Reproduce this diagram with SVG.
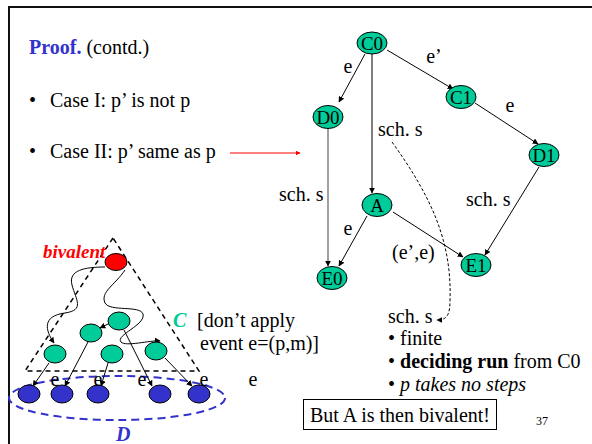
<svg xmlns="http://www.w3.org/2000/svg" width="592" height="444" viewBox="0 0 592 444" font-family="'Liberation Serif', 'Times New Roman', Times, serif">
<style>
text{font-family:'Liberation Serif','Times New Roman',Times,serif;font-size:20px;fill:#000}
.g{fill:#00cc99;stroke:#000;stroke-width:1}
.b{fill:#3333cc;stroke:#000;stroke-width:1}
.r{fill:#ff0000;stroke:#000;stroke-width:1}
.e{stroke:#000;stroke-width:1;fill:none;marker-end:url(#ah)}
.lbl{text-anchor:middle}
.nl{text-anchor:middle;font-size:19px}
</style>
<defs>
<marker id="ah" viewBox="0 0 10 10" refX="9" refY="5" markerWidth="6" markerHeight="6" markerUnits="userSpaceOnUse" orient="auto">
<path d="M0,0 L10,5 L0,10 z" fill="#000"/>
</marker>
<marker id="ahr" viewBox="0 0 10 10" refX="9" refY="5" markerWidth="5" markerHeight="5" markerUnits="userSpaceOnUse" orient="auto">
<path d="M0,0 L10,5 L0,10 z" fill="#ff0000"/>
</marker>
</defs>
<rect width="592" height="444" fill="#fff"/>
<g id="frame" stroke="#111" stroke-width="2">
<line x1="8" y1="7" x2="592" y2="7"/>
<line x1="9" y1="6" x2="9" y2="444"/>
</g>
<g id="title">
<text x="29" y="54"><tspan font-weight="bold" style="fill:#3333cc">Proof.</tspan> (contd.)</text>
<text x="29" y="107">•</text><text x="50" y="107">Case I: p’ is not p</text>
<text x="29" y="158">•</text><text x="50" y="158">Case II: p’ same as p</text>
</g>
<g id="connectors">
<line x1="230" y1="153" x2="300" y2="153" stroke="#ff0000" stroke-width="1" marker-end="url(#ahr)"/>
<line class="e" x1="365" y1="54" x2="339" y2="102"/>
<line class="e" x1="372" y1="54" x2="372" y2="193"/>
<line class="e" x1="387" y1="50" x2="453" y2="89"/>
<line class="e" x1="475" y1="103" x2="538" y2="144"/>
<line x1="328" y1="127" x2="328" y2="266" stroke="#808080" stroke-width="1.5" marker-end="url(#ah)"/>
<line class="e" x1="367" y1="216" x2="339" y2="266"/>
<line class="e" x1="393" y1="212" x2="463" y2="257"/>
<line class="e" x1="539" y1="167" x2="485" y2="255"/>
<path class="e" d="M392,142 C430,195 452,240 450,300 C450,315 447,320 437,320" stroke-dasharray="3,2"/>
</g>
<g id="edge-labels">
<text class="lbl" x="348" y="73">e</text>
<text class="lbl" x="434" y="63">e’</text>
<text class="lbl" x="510" y="112">e</text>
<text x="378" y="136">sch. s</text>
<text x="279" y="201">sch. s</text>
<text x="466" y="206">sch. s</text>
<text class="lbl" x="348" y="235">e</text>
<text x="392" y="259">(e’,e)</text>
</g>
<g id="C0"><ellipse class="g" cx="372" cy="43" rx="15" ry="11"/><text class="nl" x="372" y="50">C0</text></g>
<g id="C1"><ellipse class="g" cx="461" cy="97" rx="15" ry="11.5"/><text class="nl" x="461" y="104">C1</text></g>
<g id="D0"><ellipse class="g" cx="328" cy="117" rx="15" ry="11.5"/><text class="nl" x="328" y="124">D0</text></g>
<g id="D1"><ellipse class="g" cx="544" cy="155" rx="15" ry="11.5"/><text class="nl" x="544" y="162">D1</text></g>
<g id="A"><ellipse class="g" cx="377" cy="205" rx="15" ry="11.5"/><text class="nl" x="377" y="212">A</text></g>
<g id="E0"><ellipse class="g" cx="332" cy="278" rx="15" ry="11.5"/><text class="nl" x="332" y="285">E0</text></g>
<g id="E1"><ellipse class="g" cx="476" cy="265" rx="15" ry="11.5"/><text class="nl" x="476" y="272">E1</text></g>
<g id="notes">
<text x="388" y="323">sch. s</text>
<text x="388" y="345">• finite</text>
<text x="388" y="368">• <tspan font-weight="bold">deciding run</tspan> from C0</text>
<text x="388" y="391">• <tspan font-style="italic">p takes no steps</tspan></text>
</g>
<g id="conclusion">
<rect x="303.5" y="399.5" width="193" height="30" fill="#fff" stroke="#000" stroke-width="1"/>
<text x="310" y="422">But A is then bivalent!</text>
</g>
<text x="542" y="425" text-anchor="middle" style="font-size:12px">37</text>
<g id="cone">
<polygon points="113,238 25,371 199,371" fill="none" stroke="#000" stroke-width="1.5" stroke-dasharray="5,4"/>
<ellipse cx="117" cy="398" rx="108" ry="22" fill="none" stroke="#3333cc" stroke-width="2" stroke-dasharray="8,5"/>
</g>
<g id="cone-edges">
<path class="e" d="M105,267 C85,267 68,270 72,285 C76,300 85,310 65,313 C42,316 45,330 54,343" stroke="#555"/>
<path class="e" d="M125,270 C115,285 100,292 105,303 C110,312 140,305 143,314 C146,325 115,335 121,342 C126,347 150,340 160,341" stroke="#555"/>
<line class="e" x1="110" y1="323" x2="100" y2="328"/>
<line class="e" x1="49" y1="363" x2="33" y2="386"/>
<line class="e" x1="88" y1="342" x2="65" y2="386"/>
<line class="e" x1="108" y1="363" x2="101" y2="386"/>
<line class="e" x1="124" y1="330" x2="152" y2="386"/>
<line class="e" x1="165" y1="358" x2="192" y2="386"/>
</g>
<g id="bivalent"><ellipse class="r" cx="116" cy="262" rx="11" ry="8.5"/></g>
<g id="n1"><ellipse class="g" cx="119" cy="321" rx="11" ry="9"/></g>
<g id="n2"><ellipse class="g" cx="91" cy="333" rx="11" ry="9"/></g>
<g id="n3"><ellipse class="g" cx="55" cy="354" rx="11" ry="9"/></g>
<g id="n4"><ellipse class="g" cx="112" cy="354" rx="11" ry="9"/></g>
<g id="n5"><ellipse class="g" cx="156" cy="351" rx="11" ry="9"/></g>
<g id="d1"><ellipse class="b" cx="29" cy="394" rx="11" ry="9"/></g>
<g id="d2"><ellipse class="b" cx="62" cy="394" rx="11" ry="9"/></g>
<g id="d3"><ellipse class="b" cx="98" cy="394" rx="11" ry="9"/></g>
<g id="d4"><ellipse class="b" cx="160" cy="394" rx="11" ry="9"/></g>
<g id="d5"><ellipse class="b" cx="199" cy="394" rx="11" ry="9"/></g>
<g id="cone-labels">
<text x="43" y="258" font-weight="bold" font-style="italic" style="fill:#ff0000;font-size:19px">bivalent</text>
<text x="173" y="327" font-weight="bold" font-style="italic" style="fill:#00cc99">C</text>
<text x="197" y="327">[don’t apply</text>
<text x="200" y="350">event e=(p,m)]</text>
<text class="lbl" x="55" y="386">e</text>
<text class="lbl" x="98" y="386">e</text>
<text class="lbl" x="142" y="386">e</text>
<text class="lbl" x="204" y="386">e</text>
<text class="lbl" x="253" y="386">e</text>
<text x="116" y="441" font-weight="bold" font-style="italic" style="fill:#3333cc">D</text>
</g>
</svg>
